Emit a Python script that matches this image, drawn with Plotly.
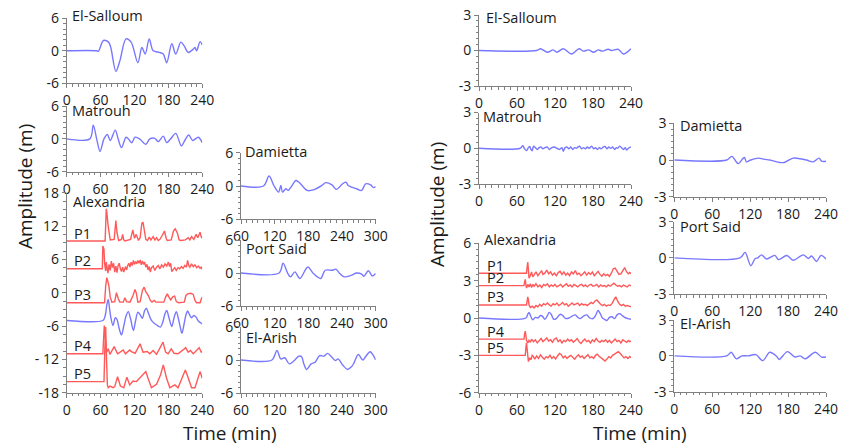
import plotly.graph_objects as go

# ---------------- data: (time [min], amplitude [m]) ----------------
# Scenario A (left block)
A_SALLOUM = [(0, 0), (53, 0), (56, -0.1), (65, 1.9), (74, 1.6), (78, 0.6), (87, -3.8), (94, -1.9),
             (105, 2.2), (114, 1.6), (126, -2.2), (133, 0.6), (139, -0.6), (146, 2.2), (153, 0),
             (164, -0.3), (171, -0.6), (177, -2.2), (186, 1.3), (193, -0.6), (202, 1.6), (208, 0.9),
             (215, -0.3), (224, 0.3), (227, 0.6), (230, 0), (236, 1.7), (240, 1.1)]
A_MATROUH = [(0, 0), (41, 0), (47, 2.5), (53, 0), (59, -2.3), (66, 0), (72, 0.8), (77, -0.3), (86, 1.6),
             (91, 0), (97, -1.6), (105, 0.3), (109, 0), (115, -0.7), (121, 0.3), (129, 0), (140, -1),
             (147, 0), (156, 0.1), (162, -0.5), (171, 0.5), (177, -0.7), (184, 0), (193, 1), (203, -1.3),
             (209, -0.3), (216, 0.7), (223, -0.3), (233, 0.3), (240, -0.7)]
A_ALEX_P1 = [(0, 0), (68, 0), (70, 5.8), (71, 5.2), (73, 3.0), (77, 0.2), (84, 0.3), (87, 3.7), (89, 1.5),
             (92, 0.1), (97, 0.3), (99, 1.2), (101, 0.2), (103, 0), (113, 0.3), (117, 2.0), (120, 0.5),
             (123, 1.2), (127, 0.1), (130, 0.6), (133, 3.2), (135, 3.4), (137, 2.2), (140, 0.3), (143, 0.1),
             (146, 0.7), (149, 0.2), (153, 0.8), (156, 0.2), (159, 0.6), (162, 0.1), (165, 0.3), (169, 1.0),
             (173, 1.8), (176, 0.5), (178, 0.1), (185, 0.2), (189, 1.8), (192, 2.2), (196, 1.4), (199, 0.2),
             (202, 0.1), (210, 0.2), (215, 0.6), (218, 0.2), (221, 0.8), (225, 0.3), (229, 1.2), (232, 0.6),
             (236, 1.6), (238, 0.8), (240, 0.5)]
A_ALEX_P2 = [(0, 0), (63, 0), (64, 4.1), (66, 3.5), (67, 1.0), (69, -0.4), (70, 1.2), (72, 0.2), (73, -0.8),
             (75, 0.8), (77, -0.3), (79, 1.4), (81, 0.2), (83, 1.0), (85, -0.6), (87, 0.5), (89, -0.7),
             (91, 0.6), (93, 1.0), (95, 0.0), (97, -0.5), (99, 0.3), (101, -0.6), (104, 0.4), (106, -0.2),
             (108, 0.6), (110, 1.0), (112, 0.3), (114, 1.2), (116, 0.6), (118, 1.5), (120, 0.8), (122, 1.3),
             (124, 0.9), (126, 1.5), (128, 1.0), (130, 1.6), (132, 0.7), (134, 1.4), (136, 0.8), (138, 1.2),
             (140, 0.3), (142, 0.8), (144, -0.2), (146, 0.4), (148, -0.6), (150, 0.2), (153, 0.5), (156, -0.3),
             (159, 0.3), (162, 0.6), (165, 0.0), (168, 0.7), (171, 0.3), (174, 0.9), (177, 0.5), (180, 1.2),
             (182, 0.4), (184, 1.0), (186, -0.5), (188, -0.2), (191, 0.2), (194, -0.3), (197, 0.2), (200, 0.0),
             (203, 0.4), (206, 0.1), (209, 0.6), (212, 0.3), (214, 1.5), (216, 0.6), (218, 0.3), (221, 0.9),
             (224, 0.4), (227, 0.7), (230, 0.2), (233, 0.5), (236, 0.1), (238, 0.3), (240, -0.1)]
A_ALEX_P3 = [(0, 0), (67, 0), (69, 3.0), (71, 4.5), (73, 3.8), (75, 2.8), (77, 1.0), (80, 0.1), (85, 0.2),
             (88, 1.8), (91, 0.8), (94, 0.1), (100, 0.1), (103, 0.9), (106, 0.2), (112, 0.1), (117, 1.2),
             (121, 2.4), (123, 1.8), (126, 0.1), (130, 0.2), (134, 2.2), (137, 2.8), (140, 2.0), (145, 1.2),
             (148, 0.4), (151, 0.1), (155, 0.4), (158, 0.1), (172, 0.1), (175, 1.0), (178, 1.6), (181, 1.0),
             (184, 0.5), (188, 1.1), (191, 1.2), (194, 0.2), (198, 0.0), (208, 0.1), (211, 1.3), (214, 1.6),
             (220, 1.7), (224, 1.5), (227, 0.4), (230, 0.0), (236, 0.0), (238, 0.6), (240, 1.0)]
A_ALEX_OBS = [(0, 0), (64, 0), (68, 0.8), (71, 2.8), (73.5, 3.8), (76, 2.0), (78, 0.6), (82, -0.9), (86, 0.5),
              (89, 0.2), (93, -1.5), (97, -2.6), (101, -1.0), (105, 0.8), (109, 1.6), (113, 0.3), (118, -1.8),
              (122, 0), (126, 1.5), (130, 1.0), (134, 0.4), (138, 1.8), (141, 2.2), (145, 1.2), (150, 0),
              (156, -0.6), (162, -1.0), (166, -1.2), (170, -0.3), (174, 1.2), (177, 1.8), (181, 0.5),
              (186, -1.1), (190, 0.5), (194, 1.6), (198, 0.2), (201, -1.2), (204, -2.3), (208, -0.5),
              (211, 1.0), (214, 1.7), (218, 0.9), (221, 0.5), (225, 0.9), (229, 0.6), (233, -0.1),
              (237, -0.4), (240, -0.6)]
A_ALEX_P4 = [(0, 0), (64, 0), (66.5, 5.1), (68, 2.5), (70.5, 0.3), (73.5, 0.9), (76.5, -0.1), (84, 1.3),
             (90, 0), (94.5, 0.3), (100, 0.7), (104, 0), (111.5, 0.7), (114.5, 0.4), (121, 0.1), (130, 1.8),
             (135, 0.3), (142.5, 0.4), (147, 0), (153, 0.6), (159, -0.1), (170.5, 2.1), (175, 0.3),
             (179.5, 0), (185, 0.9), (190, 0.1), (197, 0), (206, 0.7), (210.5, 1.1), (215, 0.3), (219, 0.6),
             (224, 0), (230, 0.7), (234.5, 1.1), (238, 0.3), (240, 0.4)]
A_ALEX_P5 = [(0, 0), (66, 0), (67.5, 6.0), (69, 9.8), (70.5, 4.0), (72, -0.6), (73.5, -1.1), (76.5, -0.8),
             (82, -1.1), (85, -0.9), (90, 0.9), (95, -0.8), (101, -1.1), (106.5, 0.8), (111.5, -0.6),
             (117.5, 0.1), (123.5, 0), (129.5, 0.6), (136, 1.4), (140, 1.8), (144, 0.6), (150, -1.1),
             (159, -0.5), (166, 1.2), (171, 3.0), (176.5, 0.7), (182.5, -1.1), (191.5, -0.6), (197, -1.1),
             (204, 0.5), (210, 2.1), (215, 0.7), (221, -1.1), (227, -1.1), (232, 0.6), (236, 1.8),
             (240, 0.6)]
A_DAMIETTA = [(60, 0), (100, 0), (110, 1.8), (119, 0), (127, -1.1), (131, 0.1), (134, -1.1), (140, -0.5),
              (144, -0.8), (149, -0.2), (158, 1.0), (165, 0.5), (178, -0.8), (189, -0.7), (204, 0.1),
              (211, 0.6), (222, 0.2), (230, -0.6), (241, 0.4), (247, 0.7), (251, 0.1), (266, -0.5),
              (275, -0.8), (282, 0.4), (291, 0.2), (296, -0.3), (300, -0.1)]
A_PORTSAID = [(60, 0), (128, 0), (135, 1.8), (143, 0), (148, -0.7), (156, 0.2), (165, -1.0), (179, 1.1),
              (189, -0.1), (202, -1.0), (210, 0.5), (223, 0.5), (229, 0.7), (236, -0.1), (244, -0.7),
              (257, -0.4), (266, 0), (275, -0.2), (279, -0.6), (287, 0.4), (294, -0.55), (300, -0.1)]
A_ELARISH = [(60, 0), (115, 0), (124, 1.7), (131, 0.2), (138, 0.4), (146, -0.7), (155, -0.1), (163, 0.7),
             (168, 0.6), (172, -0.7), (177, -1.7), (185, -0.7), (192, -0.4), (200, 0.8), (208, 0.7),
             (214, 1.2), (222, 0.5), (228, -0.1), (233, 0.2), (241, -0.9), (250, -1.7), (257, -1.2),
             (261, -0.6), (269, 1.0), (277, 0), (282, 0.6), (290, 1.5), (296, 0.8), (300, 0)]

# Scenario B (right block)
B_SALLOUM = [(0, 0), (91, 0), (97, 0.15), (108, -0.15), (117, 0.05), (123, -0.15), (133, 0.15), (146, -0.3),
             (158, 0.15), (165, -0.05), (173, 0.05), (181, -0.15), (188, 0.05), (195, -0.05), (204, 0.1),
             (209, 0), (220, 0.1), (228, -0.3), (240, 0.15)]
B_MATROUH = [(0, 0), (65, 0), (69, 0.22), (72, -0.05), (75, -0.2), (78, 0.05), (80, 0.15), (82, -0.1),
             (84, -0.22), (86, 0.17), (89, 0.05), (92, -0.1), (95, 0.05), (98, 0.1), (101, -0.05), (104, 0.05),
             (108, 0.1), (111, -0.1), (115, 0.05), (119, 0.1), (123, 0), (127, -0.1), (131, 0.05),
             (133, -0.25), (136, 0.05), (139, 0.1), (142, -0.05), (145, 0.1), (148, -0.1), (151, 0.05),
             (154, 0.0), (156, 0.1), (159, 0.17), (162, -0.05), (165, 0.05), (168, -0.05), (171, 0.1),
             (174, 0.0), (178, 0.17), (181, -0.05), (184, 0.05), (187, -0.1), (190, 0.05), (193, -0.05),
             (196, 0.1), (199, 0.15), (202, -0.05), (205, 0.1), (208, 0.0), (211, 0.1), (214, -0.1),
             (217, 0.05), (219, 0.0), (222, 0.18), (225, 0.05), (228, -0.1), (231, 0.05), (233, -0.15),
             (236, 0.0), (240, 0.12)]
B_ALEX_P1 = [(0, 0), (75, 0), (76, 0.5), (77, 0.9), (78, 0.3), (79, -0.4), (81, -0.2), (83, 0.1), (85, -0.3),
             (88, -0.1), (90, 0.1), (93, -0.2), (96, 0.0), (99, 0.2), (101, -0.1), (104, 0.0), (107, 0.25),
             (110, -0.05), (113, 0.1), (116, -0.15), (119, 0.0), (122, -0.2), (125, 0.05), (128, 0.15),
             (131, -0.1), (134, 0.1), (137, -0.15), (140, 0.0), (143, -0.2), (146, 0.1), (149, -0.05),
             (152, 0.2), (155, -0.1), (158, 0.0), (161, -0.2), (164, -0.05), (167, 0.1), (170, -0.15),
             (173, 0.05), (176, -0.1), (179, 0.1), (182, -0.2), (185, 0.0), (188, 0.15), (191, -0.1),
             (194, -0.25), (197, -0.05), (200, -0.2), (203, -0.1), (206, -0.25), (209, 0.0), (212, 0.35),
             (215, 0.4), (218, 0.1), (221, -0.1), (224, -0.05), (227, 0.2), (230, 0.45), (233, 0.1),
             (236, -0.05), (238, 0.05), (240, -0.05)]
B_ALEX_P2 = [(0, 0), (71, 0), (72, 0.3), (73, 0.5), (74, 0.1), (75, -0.2), (77, 0.1), (79, -0.1), (81, 0.15),
             (83, -0.15), (85, 0.1), (87, -0.05), (90, 0.15), (93, -0.1), (96, 0.05), (99, -0.15), (102, 0.1),
             (105, 0.0), (108, 0.15), (111, -0.1), (114, 0.05), (117, -0.05), (120, 0.1), (123, -0.1),
             (126, 0.0), (129, 0.1), (132, -0.1), (135, 0.05), (138, 0.15), (141, -0.05), (144, 0.05),
             (147, -0.1), (150, 0.1), (153, 0.0), (156, -0.1), (159, 0.05), (162, 0.1), (165, -0.05),
             (168, 0.05), (171, -0.1), (174, 0.05), (177, 0.1), (180, -0.05), (183, 0.0), (186, 0.1),
             (189, -0.1), (192, 0.05), (195, -0.05), (198, 0.0), (201, -0.1), (204, 0.05), (207, -0.05),
             (210, 0.05), (213, 0.2), (216, 0.05), (219, -0.05), (222, 0.0), (225, -0.1), (228, 0.05),
             (231, 0.0), (234, -0.1), (237, 0.05), (240, 0.0)]
B_ALEX_P3 = [(0, 0), (75, 0), (76, 0.3), (77, 0.65), (78, 0.4), (79, 0.0), (81, -0.2), (84, -0.1), (87, -0.25),
             (90, -0.05), (93, -0.15), (96, 0.05), (99, -0.1), (102, 0.1), (105, 0.0), (108, 0.15), (111, 0.0),
             (114, -0.1), (117, 0.1), (120, 0.0), (123, 0.15), (126, -0.05), (129, 0.05), (132, 0.2),
             (135, 0.0), (138, 0.1), (141, -0.1), (144, 0.05), (147, 0.15), (150, 0.0), (153, 0.05),
             (156, 0.15), (159, -0.05), (162, 0.1), (165, 0.0), (168, 0.05), (171, -0.05), (174, 0.1),
             (177, 0.2), (180, 0.1), (183, 0.3), (186, 0.4), (189, 0.2), (192, 0.05), (195, -0.05),
             (198, 0.05), (201, -0.1), (204, 0.0), (207, -0.05), (210, 0.1), (213, 0.4), (216, 0.65),
             (219, 0.3), (222, 0.05), (225, -0.05), (228, 0.05), (231, -0.1), (234, -0.05), (237, -0.1),
             (240, -0.15)]
B_ALEX_OBS = [(0, 0), (74, 0), (77, 0.3), (79, 0.45), (82, 0.1), (85, -0.15), (89, 0.05), (93, 0.0),
              (97, 0.2), (100, 0.15), (104, -0.1), (108, 0.2), (111, 0.45), (114, 0.3), (118, -0.1),
              (122, -0.05), (126, 0.2), (129, 0.3), (133, 0.15), (137, -0.05), (142, 0.0), (147, 0.15),
              (152, 0.25), (156, 0.05), (160, -0.05), (165, 0.15), (170, 0.25), (175, 0.0), (180, -0.05),
              (184, 0.2), (188, 0.6), (191, 0.4), (195, 0.0), (198, -0.1), (202, -0.2), (206, 0.05),
              (210, 0.1), (214, -0.05), (218, 0.25), (222, 0.35), (226, 0.2), (230, 0.05), (235, -0.05),
              (240, -0.1)]
B_ALEX_P4 = [(0, 0), (71, 0), (72, 0.4), (73, 0.65), (74, 0.3), (75, -0.1), (77, -0.3), (79, -0.1), (81, -0.25),
             (83, 0.0), (86, -0.2), (89, -0.05), (92, -0.3), (95, -0.1), (98, 0.05), (101, -0.2), (104, -0.05),
             (107, 0.1), (110, -0.15), (113, -0.05), (116, -0.25), (119, 0.0), (122, 0.1), (125, -0.2),
             (128, -0.05), (131, -0.3), (134, -0.1), (137, -0.2), (140, 0.0), (143, -0.15), (146, -0.05),
             (149, -0.25), (152, -0.1), (155, 0.05), (158, -0.2), (161, -0.35), (164, -0.15), (167, 0.0),
             (170, -0.2), (173, -0.1), (176, -0.3), (179, -0.05), (182, -0.2), (185, 0.05), (188, -0.15),
             (191, -0.25), (194, -0.1), (197, -0.2), (200, -0.05), (203, -0.25), (206, -0.1), (209, -0.3),
             (212, -0.15), (215, 0.0), (218, -0.2), (221, -0.1), (224, -0.3), (227, -0.05), (230, -0.15),
             (233, -0.25), (236, -0.1), (238, -0.2), (240, -0.15)]
B_ALEX_P5 = [(0, 0), (73, 0), (74, 0.6), (75, 1.0), (76, 0.5), (77, -0.2), (78, -0.5), (80, -0.2), (82, -0.35),
             (84, 0.0), (86, -0.1), (88, -0.3), (91, -0.05), (94, -0.25), (97, 0.05), (100, -0.15), (103, -0.3),
             (106, -0.1), (109, -0.2), (112, 0.0), (115, -0.25), (118, -0.1), (121, -0.3), (124, -0.05),
             (127, 0.15), (130, 0.05), (133, -0.2), (136, -0.05), (139, -0.25), (142, -0.1), (145, 0.0),
             (148, -0.15), (151, -0.3), (154, -0.1), (157, 0.05), (160, -0.15), (163, -0.05), (166, -0.25),
             (169, -0.1), (172, 0.05), (175, -0.2), (178, -0.1), (181, -0.25), (184, 0.0), (187, 0.1),
             (190, -0.1), (193, -0.2), (196, -0.35), (199, -0.45), (202, -0.3), (205, -0.1), (208, -0.2),
             (211, 0.0), (214, 0.1), (217, 0.2), (220, 0.3), (223, 0.15), (226, -0.05), (229, -0.2),
             (232, -0.1), (235, -0.25), (238, -0.1), (240, -0.2)]
B_DAMIETTA = [(0, 0), (83, 0), (91, 0.3), (98, -0.15), (101, -0.3), (111, 0.2), (114, -0.15), (121, 0),
              (133, 0.15), (143, 0.05), (151, 0), (167, -0.2), (174, -0.2), (188, 0.15), (199, 0.1), (209, 0),
              (220, -0.15), (229, 0.15), (233, -0.1), (240, -0.1)]
B_PORTSAID = [(0, 0), (104, 0), (112, 0.45), (121, -0.65), (128, -0.05), (132, 0), (138, 0.25), (146, -0.1),
              (159, 0.2), (165, -0.15), (178, 0.2), (188, -0.2), (204, 0.25), (212, -0.05), (217, 0.15),
              (225, -0.3), (232, 0.2), (240, -0.1)]
B_ELARISH = [(0, 0), (83, 0), (90, 0.3), (98, -0.25), (107, 0), (117, 0), (129, 0.1), (140, -0.4), (151, 0.3),
             (162, -0.05), (166, -0.3), (179, 0.35), (191, -0.1), (199, 0), (207, -0.25), (223, 0.3),
             (233, -0.1), (240, -0.1)]

# Alexandria gauges are stacked with vertical offsets
ALEX_LABELS = ["P1", "P2", "P3", None, "P4", "P5"]
A_ALEX_OFFSETS = [9.3, 4.3, -1.8, -5.0, -11.0, -16.0]
B_ALEX_OFFSETS = [3.6, 2.6, 1.05, 0.0, -1.7, -3.0]

# ---------------- styling / layout ----------------
W, H = 848, 447
BLUE = "#7878ff"
RED = "#ff5959"
AXIS = "#808080"
FONT = "Open Sans"
TICKFONT = dict(family=FONT, size=14, color="#1a1a1a")

fig = go.Figure()


def ax_name(n, kind):
    return kind + ("axis" if n == 1 else f"axis{n}")


def ref(n, kind):
    return kind if n == 1 else f"{kind}{n}"


def yticks(lim, step, special=None):
    vals, texts = [], []
    v = lim
    while v >= -lim - 1e-9:
        vals.append(v)
        txt = f"{v:g}" if v >= 0 else "-" + f"{-v:g}"
        if special and v in special:
            txt = special[v]
        texts.append(txt)
        v -= step
    return vals, texts


def add_axes(n, xpx, ypx, xr, ylim, ystep, yminor, special=None):
    x0, x1 = xpx
    y0, y1 = ypx
    tv = list(range(int(xr[0]), int(xr[1]) + 1, 60))
    fig.layout[ax_name(n, "x")] = dict(
        domain=[x0 / W, x1 / W], range=list(xr), anchor=ref(n, "y"), automargin=False,
        tickmode="array", tickvals=tv, ticktext=[str(t) for t in tv],
        showline=True, linecolor=AXIS, linewidth=1, ticks="outside", ticklen=4,
        tickcolor=AXIS, showgrid=False, zeroline=False, tickfont=TICKFONT,
        minor=dict(ticks="outside", tickmode="linear", tick0=0, dtick=10, ticklen=2.5,
                   tickcolor=AXIS, showgrid=False),
    )
    vals, texts = yticks(ylim, ystep, special)
    fig.layout[ax_name(n, "y")] = dict(
        domain=[1 - y1 / H, 1 - y0 / H], range=[-ylim, ylim], anchor=ref(n, "x"), automargin=False,
        tickmode="array", tickvals=vals, ticktext=texts,
        showline=True, linecolor=AXIS, linewidth=1, ticks="outside", ticklen=4,
        tickcolor=AXIS, showgrid=False, zeroline=False, tickfont=TICKFONT,
        minor=dict(ticks="outside", tickmode="linear", tick0=0, dtick=yminor, ticklen=2.5,
                   tickcolor=AXIS, showgrid=False),
    )


def add_line(n, pairs, color, offset=0.0, smooth=True):
    fig.add_trace(go.Scatter(
        x=[p[0] for p in pairs], y=[p[1] + offset for p in pairs],
        mode="lines", xaxis=ref(n, "x"), yaxis=ref(n, "y"),
        line=dict(color=color, width=1.4, shape="spline" if smooth else "linear",
                  smoothing=0.9 if smooth else None),
        showlegend=False, hoverinfo="skip",
    ))


def station_label(text, xpx, ypx):
    fig.add_annotation(text=text, x=xpx / W, y=1 - ypx / H, xref="paper", yref="paper",
                       xanchor="left", yanchor="middle", showarrow=False,
                       font=dict(family=FONT, size=14.5, color="#1a1a1a"))


def alex_labels(n, offsets, xval):
    for lab, off in zip(ALEX_LABELS, offsets):
        if lab is None:
            continue
        fig.add_annotation(text=lab, x=xval, y=off, xref=ref(n, "x"), yref=ref(n, "y"),
                           xanchor="left", yanchor="middle", yshift=8, showarrow=False,
                           font=dict(family=FONT, size=14.5, color="#1a1a1a"))


# ---- left block ----
LX = (66.7, 202.3)
MX = (241.0, 375.7)
add_axes(1, LX, (18.3, 83.3), (0, 240), 6, 6, 1)
add_axes(2, LX, (106.0, 171.7), (0, 240), 6, 6, 1)
add_axes(3, LX, (192.7, 392.7), (0, 240), 18, 6, 1.5, special={-12: "- 12"})
add_axes(4, MX, (152.7, 219.3), (60, 300), 6, 6, 1)
add_axes(5, MX, (240.0, 306.0), (60, 300), 6, 6, 1)
add_axes(6, MX, (326.7, 393.3), (60, 300), 6, 6, 1)

add_line(1, A_SALLOUM, BLUE)
add_line(2, A_MATROUH, BLUE)
for series, off in zip([A_ALEX_P1, A_ALEX_P2, A_ALEX_P3, A_ALEX_OBS, A_ALEX_P4, A_ALEX_P5], A_ALEX_OFFSETS):
    is_obs = series is A_ALEX_OBS
    add_line(3, series, BLUE if is_obs else RED, off, smooth=is_obs)
add_line(4, A_DAMIETTA, BLUE)
add_line(5, A_PORTSAID, BLUE)
add_line(6, A_ELARISH, BLUE)

station_label("El-Salloum", 70, 16)
station_label("Matrouh", 70, 111)
station_label("Alexandria", 71, 201)
station_label("Damietta", 243, 151)
station_label("Port Said", 244, 248)
station_label("El-Arish", 244, 337)
alex_labels(3, A_ALEX_OFFSETS, 9)

# ---- right block ----
RX = (479.0, 631.0)
SX = (674.3, 826.0)
add_axes(7, RX, (15.0, 86.0), (0, 240), 3, 3, 0.5)
add_axes(8, RX, (112.5, 184.0), (0, 240), 3, 3, 0.5)
add_axes(9, RX, (243.3, 392.7), (0, 240), 6, 3, 0.5)
add_axes(10, SX, (123.3, 196.7), (0, 240), 3, 3, 0.5)
add_axes(11, SX, (221.7, 294.0), (0, 240), 3, 3, 0.5)
add_axes(12, SX, (320.0, 391.7), (0, 240), 3, 3, 0.5)

add_line(7, B_SALLOUM, BLUE)
add_line(8, B_MATROUH, BLUE)
for series, off in zip([B_ALEX_P1, B_ALEX_P2, B_ALEX_P3, B_ALEX_OBS, B_ALEX_P4, B_ALEX_P5], B_ALEX_OFFSETS):
    is_obs = series is B_ALEX_OBS
    add_line(9, series, BLUE if is_obs else RED, off, smooth=is_obs)
add_line(10, B_DAMIETTA, BLUE)
add_line(11, B_PORTSAID, BLUE)
add_line(12, B_ELARISH, BLUE)

station_label("El-Salloum", 484, 17)
station_label("Matrouh", 481, 117)
station_label("Alexandria", 482, 239)
station_label("Damietta", 678, 125)
station_label("Port Said", 678, 226)
station_label("El-Arish", 678, 323)
alex_labels(9, B_ALEX_OFFSETS, 9)

# ---- shared axis titles ----
for xpx, ypx in [(25, 187), (437, 205)]:
    fig.add_annotation(text="Amplitude (m)", x=xpx / W, y=1 - ypx / H, xref="paper", yref="paper",
                       textangle=-90, showarrow=False, xanchor="center", yanchor="middle",
                       font=dict(family=FONT, size=19, color="#1a1a1a"))
for xpx in [230, 640]:
    fig.add_annotation(text="Time (min)", x=xpx / W, y=0, xref="paper", yref="paper",
                       showarrow=False, xanchor="center", yanchor="bottom", yshift=-1,
                       font=dict(family=FONT, size=19, color="#1a1a1a"))

fig.update_layout(
    width=W, height=H, autosize=False,
    margin=dict(l=0, r=0, t=0, b=0, pad=0, autoexpand=False),
    paper_bgcolor="white", plot_bgcolor="white",
    showlegend=False,
)

fig.write_html("out.html", config={"displayModeBar": False})
